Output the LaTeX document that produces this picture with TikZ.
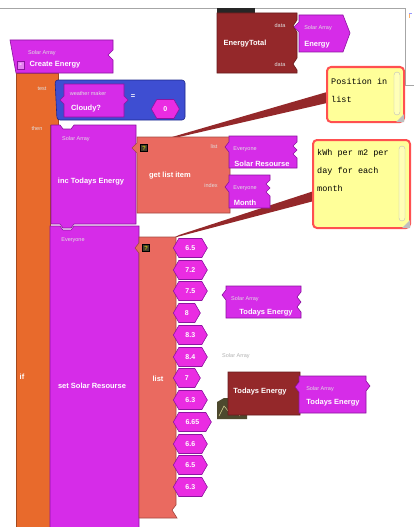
\documentclass[tikz,border=0pt]{standalone}
\usepackage{fontspec}
\setsansfont{Liberation Sans}
\setmonofont{Liberation Mono}
\usepackage{tikz}
\usetikzlibrary{shapes.symbols}

\definecolor{blkpurple}{RGB}{214,44,232}
\definecolor{blkpurpledk}{RGB}{140,20,160}
\definecolor{blkorange}{RGB}{232,106,44}
\definecolor{blkblue}{RGB}{62,78,210}
\definecolor{blkbluedk}{RGB}{30,40,140}
\definecolor{blksalmon}{RGB}{234,106,96}
\definecolor{blkred}{RGB}{148,40,42}
\definecolor{hexpink}{RGB}{234,44,226}
\definecolor{notefill}{RGB}{255,255,153}
\definecolor{noteedge}{RGB}{255,80,80}

\begin{document}
\begin{tikzpicture}[x=1pt,y=-1pt,
    purpleblk/.style={fill=blkpurple, draw=blkpurpledk, line width=0.6pt},
    orangeblk/.style={fill=blkorange, draw=blkorange!70!black, line width=0.6pt},
    blueblk/.style={fill=blkblue, draw=blkbluedk, line width=0.6pt},
    salmonblk/.style={fill=blksalmon, draw=blksalmon!70!black, line width=0.6pt},
    redblk/.style={fill=blkred, draw=blkred!70!black, line width=0.6pt},
    blktxt/.style={text=white, font=\sffamily\bfseries\fontsize{7.5}{9}\selectfont, inner sep=0pt},
    smalltxt/.style={text=white!88!black, font=\sffamily\fontsize{5.5}{6}\selectfont, inner sep=0pt},
    hexval/.style={signal, signal to=west and east, signal pointer angle=120,
      fill=hexpink, draw=blkpurpledk, line width=0.6pt, text=white,
      font=\sffamily\bfseries\fontsize{7}{8}\selectfont, minimum height=19pt, inner sep=1pt, anchor=west},
    notebox/.style={fill=notefill, draw=noteedge, line width=2pt, rounded corners=4pt},
    notetxt/.style={font=\ttfamily\fontsize{8.5}{18}\selectfont, align=left, inner sep=0pt, anchor=north west},
    askbox/.style={fill=black!70!olive, draw=black, text=yellow, font=\sffamily\fontsize{6}{6}\selectfont, inner sep=0.5pt, minimum size=7pt}]
    \useasboundingbox (0,0) rectangle (414,527);
    \fill[white] (0,0) rectangle (414,527);
    % window frame
    \draw[gray!70, line width=0.8pt] (0,8) -- (405,8) -- (405,85) -- (414,85);
    \draw[orange!60, line width=0.8pt] (409,13) -- (409,18);
    \draw[blue!40, line width=0.8pt] (409,13) -- (412,13);

    % comment wedges
    \coordinate (w1a) at (327,92);
    \coordinate (w1b) at (327,103);
    \coordinate (w1c) at (179,137);
    \coordinate (w1d) at (172,137);
    \fill[blkred] (w1a) -- (w1b) -- (w1c) -- (w1d) -- cycle;
    \coordinate (w2a) at (314,191);
    \coordinate (w2b) at (314,201);
    \coordinate (w2c) at (173,238);
    \coordinate (w2d) at (179,235);
    \fill[blkred] (w2a) -- (w2b) -- (w2c) -- (w2d) -- cycle;

    % if block
    \draw[orangeblk] (16,73) -- (58,73) -- (58,125) -- (50,125) -- (50,528) -- (16,528) -- cycle;
    \node[smalltxt] (ltest) at (42,89) {test};
    \node[smalltxt] (lthen) at (37,129) {then};
    \node[blktxt] (lif) at (22,377) {if};

    % hat block
    \draw[purpleblk] (10,40) -- (113,40) -- (113,50) -- (108,55) -- (113,60) -- (113,73) -- (16,73) -- cycle;
    \draw[fill=blkpurple!60!white, draw=blkpurpledk] (17,61) rectangle (24,69);
    \node[blktxt] (lminus) at (20.5,65) {-};
    \node[smalltxt] (lhat) at (42,53) {Solar Array};
    \node[blktxt] (create) at (55,65) {Create Energy};

    % test: weather = 0
    \draw[blueblk, rounded corners=3pt] (55,80) -- (185,80) -- (185,120) -- (57,120) -- cycle;
    \draw[purpleblk] (64,84) -- (124,84) -- (124,96) -- (128,100) -- (124,104) -- (124,117) -- (64,117) -- (64,104) -- (60,100) -- (64,96) -- cycle;
    \node[smalltxt] (lweather) at (88,94) {weather maker};
    \node[blktxt] (cloudy) at (86,109) {Cloudy?};
    \node[blktxt] (eq) at (133,97) {=};
    \node[hexval, minimum width=28pt] (zero) at (151,109) {0};

    % set Solar Resourse block
    \draw[purpleblk] (50,226) -- (60,226) -- (63,230) -- (71,230) -- (74,226) -- (139,226) -- (139,528) -- (50,528) -- cycle;
    \node[smalltxt] (lset) at (73,240) {Everyone};
    \node[blktxt] (setsolar) at (92,386) {set Solar Resourse};

    % inc Todays Energy block
    \draw[purpleblk] (51,125) -- (60,125) -- (63,129) -- (71,129) -- (74,125) -- (136,125) -- (136,224) -- (74,224) -- (71,228) -- (63,228) -- (60,224) -- (51,224) -- cycle;
    \node[smalltxt] (linc) at (76,139) {Solar Array};
    \node[blktxt] (inc) at (91,182) {inc Todays Energy};

    % get list item
    \draw[salmonblk] (137,137) -- (230,137) -- (230,213) -- (137,213) -- (137,153) -- (132,148) -- (137,143) -- cycle;
    \node[askbox] (ask1) at (144,148) {?};
    \node[blktxt] (getitem) at (170,176) {get list item};
    \node[smalltxt] (llist) at (214,147) {list};
    \node[smalltxt] (lindex) at (211,186) {index};
    \draw[purpleblk] (229,136) -- (297,136) -- (297,142) -- (293,146) -- (297,150) -- (293,154) -- (297,158) -- (297,168) -- (229,168) -- (229,152) -- (225,147) -- (229,142) -- cycle;
    \node[smalltxt] (lev1) at (245,149) {Everyone};
    \node[blktxt] (solres) at (262,164) {Solar Resourse};
    \draw[purpleblk] (229,175) -- (270,175) -- (270,180) -- (266,184) -- (270,188) -- (266,192) -- (270,196) -- (270,208) -- (229,208) -- (229,192) -- (225,187) -- (229,182) -- cycle;
    \node[smalltxt] (lev2) at (245,188) {Everyone};
    \node[blktxt] (month) at (245,203) {Month};

    % list block
    \draw[salmonblk] (139,237) -- (176,237) -- (176,505) -- (172,510) -- (177,518) -- (139,518) -- (139,253) -- (135,248) -- (139,243) -- cycle;
    \node[askbox] (ask2) at (146,248) {?};
    \node[blktxt] (llistb) at (158,379) {list};
    \node[hexval, minimum width=34pt] (v1) at (173,248) {6.5};
    \node[hexval, minimum width=34pt] (v2) at (173,270) {7.2};
    \node[hexval, minimum width=34pt] (v3) at (173,291) {7.5};
    \node[hexval, minimum width=27pt] (v4) at (173,313) {8};
    \node[hexval, minimum width=34pt] (v5) at (173,335) {8.3};
    \node[hexval, minimum width=34pt] (v6) at (173,357) {8.4};
    \node[hexval, minimum width=27pt] (v7) at (173,378) {7};
    \node[hexval, minimum width=34pt] (v8) at (173,400) {6.3};
    \node[hexval, minimum width=38pt] (v9) at (173,422) {6.65};
    \node[hexval, minimum width=34pt] (v10) at (173,444) {6.6};
    \node[hexval, minimum width=34pt] (v11) at (173,465) {6.5};
    \node[hexval, minimum width=34pt] (v12) at (173,487) {6.3};

    % loose reporter
    \draw[purpleblk] (226,286) -- (301,286) -- (301,292) -- (297,297) -- (301,302) -- (297,307) -- (301,312) -- (301,318) -- (226,318) -- (226,300) -- (222,295) -- (226,290) -- cycle;
    \node[smalltxt] (lrep1) at (245,299) {Solar Array};
    \node[blktxt] (todays1) at (266,313) {Todays Energy};
    \node[smalltxt, text=gray!60] (lghost) at (236,356) {Solar Array};

    % Todays Energy variable
    \fill[black!60!olive] (217,419) -- (217,402) -- (224,398) -- (247,398) -- (247,419) -- cycle;
    \draw[white!70!olive, line width=0.5pt] (219,416) -- (224,406) -- (229,412) -- (233,404) -- (240,416);
    \draw[redblk] (228,372) -- (300,372) -- (300,380) -- (296,386) -- (300,392) -- (300,415) -- (228,415) -- cycle;
    \node[blktxt] (todaysvar) at (260,392) {Todays Energy};
    \draw[purpleblk] (299,376) -- (366,376) -- (366,381) -- (370,386) -- (366,391) -- (366,413) -- (299,413) -- (299,392) -- (295,387) -- (299,382) -- cycle;
    \node[smalltxt] (lrep2) at (320,389) {Solar Array};
    \node[blktxt] (todays2) at (333,403) {Todays Energy};

    % EnergyTotal block
    \fill[black!85] (217,8) rectangle (255,13);
    \draw[redblk] (217,13) -- (297,13) -- (297,20) -- (293,26) -- (297,32) -- (297,58) -- (293,64) -- (297,70) -- (297,73) -- (217,73) -- cycle;
    \node[smalltxt] (ldata1) at (280,26) {data};
    \node[blktxt] (etotal) at (245,44) {EnergyTotal};
    \node[smalltxt] (ldata2) at (280,65) {data};
    \draw[purpleblk] (299,15) -- (343,15) -- (350,33) -- (343,52) -- (299,52) -- (299,32) -- (294,27) -- (299,22) -- cycle;
    \node[smalltxt] (lrep3) at (318,28) {Solar Array};
    \node[blktxt] (energy) at (317,45) {Energy};

    % comments
    \draw[notebox] (327,67) rectangle (404,122);
    \draw[fill=notefill!70!white, draw=gray!50, rounded corners=3pt] (394,72) rectangle (400,115);
    \fill[gray!50] (404,114) -- (404,122) -- (396,122) -- cycle;
    \node[notetxt] (note1) at (331,78) {Position in\\list};
    \draw[notebox] (313,140) rectangle (410,228);
    \draw[fill=notefill!70!white, draw=gray!50, rounded corners=3pt] (399,146) rectangle (405,221);
    \fill[gray!50] (410,220) -- (410,228) -- (402,228) -- cycle;
    \node[notetxt] (note2) at (317,149) {kWh per m2 per\\day for each\\month};
\end{tikzpicture}
\end{document}
